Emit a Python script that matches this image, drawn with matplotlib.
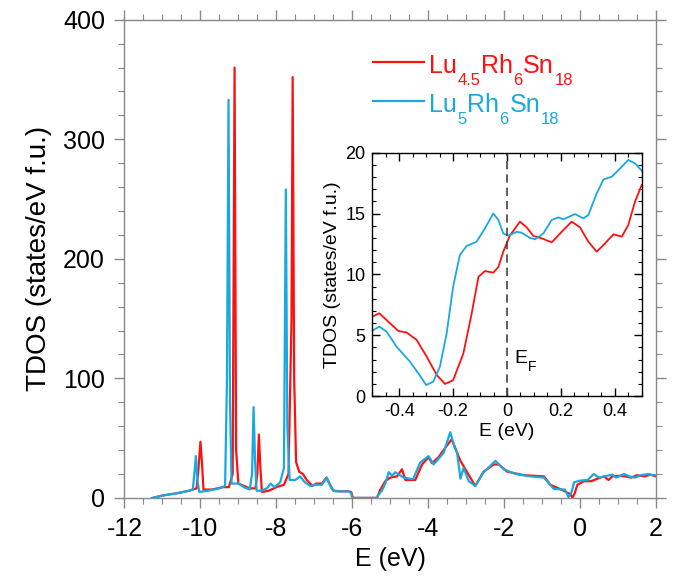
import matplotlib
matplotlib.use("Agg")
import matplotlib.pyplot as plt
from matplotlib.ticker import MultipleLocator, FuncFormatter
from matplotlib.transforms import IdentityTransform
from matplotlib.lines import Line2D

plt.rcParams['font.family'] = ['Liberation Sans', 'DejaVu Sans']
plt.rcParams['axes.unicode_minus'] = False

RED = '#FF1010'
BLUE = '#18A9E1'

# legend label pieces: (text, is_subscript)
label_a = [('Lu', False), ('4.5', True), ('Rh', False), ('6', True), ('Sn', False), ('18', True)]
label_b = [('Lu', False), ('5', True), ('Rh', False), ('6', True), ('Sn', False), ('18', True)]

# ---- main TDOS, Lu4.5Rh6Sn18 ----
e_a = [-11.25, -11.0, -10.6, -10.3, -10.1, -10.05, -10.0, -9.96, -9.92, -9.7, -9.4, -9.25,
       -9.15, -9.1, -9.06, -9.0, -8.85, -8.7, -8.55, -8.5, -8.46, -8.42, -8.38, -8.2, -8.0,
       -7.8, -7.68, -7.6, -7.57, -7.53, -7.48, -7.4, -7.3, -7.2, -7.05, -6.95, -6.8, -6.68,
       -6.6, -6.5, -6.3, -6.1, -6.03, -5.98, -5.35, -5.26, -5.13, -5.0, -4.82, -4.69, -4.6,
       -4.34, -4.16, -3.99, -3.9, -3.73, -3.55, -3.38, -3.15, -3.02, -2.76, -2.54, -2.27,
       -2.14, -1.92, -1.48, -0.95, -0.78, -0.43, -0.25, -0.2, -0.14, -0.07, 0.1, 0.3, 0.45,
       0.63, 0.75, 0.85, 0.98, 1.2, 1.35, 1.5, 1.7, 1.86, 2.0]
d_a = [0, 2, 4, 6, 8, 25, 47, 30, 7, 7, 9, 9,
       20, 360, 40, 12, 10, 8, 8, 20, 53, 25, 5, 6, 9,
       11, 20, 150, 352, 100, 30, 22, 20, 15, 10, 12, 12, 17,
       12, 6, 5.5, 5.5, 5, 0, 0, 7, 14, 17, 18, 24, 15,
       15, 28, 34, 29, 34, 42, 49, 31, 24, 10, 22, 28,
       28, 22, 19, 18, 11, 6, 3, 0, 4, 11, 14, 14, 16,
       18, 15, 18, 18.5, 18, 17, 19, 18, 19.5, 18]

# ---- main TDOS, Lu5Rh6Sn18 ----
e_b = [-11.27, -11.0, -10.6, -10.3, -10.2, -10.16, -10.12, -10.08, -10.03, -9.8, -9.5, -9.35,
       -9.3, -9.26, -9.22, -9.18, -9.0, -8.85, -8.7, -8.64, -8.6, -8.56, -8.52, -8.4, -8.25,
       -8.15, -8.05, -7.9, -7.8, -7.75, -7.71, -7.65, -7.5, -7.37, -7.25, -7.1, -6.95, -6.8,
       -6.67, -6.55, -6.45, -6.1, -6.03, -6.0, -5.37, -5.3, -5.22, -5.13, -5.04, -4.95, -4.87,
       -4.65, -4.4, -4.21, -3.99, -3.86, -3.73, -3.59, -3.42, -3.3, -3.24, -3.15, -3.07, -2.93,
       -2.76, -2.55, -2.23, -2.01, -1.7, -1.3, -0.95, -0.69, -0.4, -0.3, -0.22, -0.16, 0.0,
       0.2, 0.36, 0.5, 0.65, 0.85, 0.95, 1.16, 1.3, 1.45, 1.6, 1.8, 1.9, 2.0]
d_b = [0, 2, 4, 6, 7, 20, 35, 15, 5, 6, 8, 10,
       100, 333, 80, 12, 12, 9, 7, 20, 76, 30, 6, 6, 8,
       12, 9, 13, 25, 258, 60, 15, 15, 18, 13, 10, 11, 11,
       17, 8, 5.5, 5.5, 4, 0, 0, 3, 6, 12, 21.5, 18.6, 21.5,
       17, 15.6, 29.6, 35, 28, 32.6, 38, 55, 42, 38, 16, 25, 14,
       10, 21, 31, 24, 20, 18, 17, 7.5, 7, 0.6, 5, 13, 14.5,
       15, 20, 17, 18, 19.5, 17, 20, 18, 17, 19, 20, 19, 19]

# ---- inset, near E_F ----
ie_a = [-0.5, -0.474, -0.44, -0.403, -0.373, -0.335, -0.298, -0.261, -0.23, -0.2, -0.162,
        -0.131, -0.106, -0.082, -0.051, -0.032, -0.014, 0.011, 0.048, 0.073, 0.098, 0.129,
        0.166, 0.209, 0.24, 0.271, 0.302, 0.333, 0.364, 0.395, 0.426, 0.45, 0.475, 0.5]
id_a = [6.52, 6.8, 6.1, 5.34, 5.23, 4.6, 3.23, 1.73, 0.99, 1.3, 3.5,
        6.8, 9.8, 10.27, 10.14, 10.6, 11.86, 13.2, 14.33, 13.86, 13.15, 12.96,
        12.63, 13.64, 14.33, 13.86, 12.68, 11.86, 12.55, 13.29, 13.1, 14.05, 15.97, 17.34]

ie_b = [-0.5, -0.474, -0.447, -0.41, -0.36, -0.329, -0.3, -0.274, -0.249, -0.224, -0.2,
        -0.175, -0.15, -0.113, -0.082, -0.051, -0.032, -0.014, 0.005, 0.036, 0.054, 0.085,
        0.104, 0.135, 0.166, 0.191, 0.209, 0.252, 0.283, 0.302, 0.333, 0.358, 0.389, 0.42,
        0.45, 0.475, 0.5]
id_b = [5.37, 5.7, 5.29, 4.05, 2.82, 1.86, 0.9, 1.18, 2.41, 5.15, 8.99,
        11.59, 12.33, 12.68, 13.78, 15.0, 14.47, 13.37, 13.18, 13.5, 13.42, 13.0,
        12.88, 13.37, 14.47, 14.68, 14.52, 14.96, 14.6, 14.88, 16.66, 17.8, 18.03, 18.71,
        19.4, 19.12, 18.52]

fig = plt.figure(figsize=(6.84, 5.81), dpi=100)
H = 581
ax = fig.add_axes([0.182, 0.143, 0.777, 0.823])
ax.plot(e_a, d_a, color=RED, lw=1.6)
ax.plot(e_b, d_b, color=BLUE, lw=1.6)
ax.set_xlim(-12, 2)
ax.set_ylim(0, 400)
ax.xaxis.set_major_locator(MultipleLocator(2))
ax.xaxis.set_minor_locator(MultipleLocator(0.5))
ax.yaxis.set_major_locator(MultipleLocator(100))
ax.yaxis.set_minor_locator(MultipleLocator(20))
for s in ax.spines.values():
    s.set_color('#888888')
    s.set_linewidth(1.0)
ax.tick_params(which='both', direction='out', colors='#888888', labelcolor='black',
               top=True, right=True, labelsize=18)
ax.tick_params(which='major', length=7, width=1.0, pad=7)
ax.tick_params(which='minor', length=4, width=0.8)
ax.set_xlabel('E (eV)', fontsize=18, labelpad=4)
ax.set_ylabel('TDOS (states/eV f.u.)', fontsize=20, labelpad=8)

# manual legend with lowered subscripts (pixel positions)
renderer = fig.canvas.get_renderer()


def draw_label(x0, y_base, pieces, color, big=18, small=12, drop=12):
    x = x0
    for txt, sub in pieces:
        t = fig.text(x, y_base - (drop if sub else 0), txt, transform=IdentityTransform(),
                     fontsize=small if sub else big, color=color, ha='left', va='baseline')
        bb = t.get_window_extent(renderer=renderer)
        x = bb.x1 + 0.5


for pieces, color, y_line, y_base in [(label_a, RED, H - 62, H - 73),
                                      (label_b, BLUE, H - 101, H - 112)]:
    fig.add_artist(Line2D([373, 424], [y_line, y_line], color=color, lw=1.6,
                          transform=IdentityTransform()))
    draw_label(429, y_base, pieces, color)

# inset
ins = fig.add_axes([0.5443, 0.3184, 0.3939, 0.4188])
ins.plot(ie_a, id_a, color=RED, lw=1.3)
ins.plot(ie_b, id_b, color=BLUE, lw=1.3)
ins.axvline(0, color='#444444', lw=1.2, ls=(0, (5, 3)))
ins.set_xlim(-0.5, 0.5)
ins.set_ylim(0, 20)
ins.xaxis.set_major_locator(MultipleLocator(0.2))
ins.xaxis.set_minor_locator(MultipleLocator(0.05))
ins.yaxis.set_major_locator(MultipleLocator(5))
ins.yaxis.set_minor_locator(MultipleLocator(1))
ins.xaxis.set_major_formatter(FuncFormatter(lambda v, p: ('%g' % round(v, 2))))
for s in ins.spines.values():
    s.set_color('black')
    s.set_linewidth(1.0)
ins.tick_params(which='both', direction='in', top=True, right=True, labelsize=13)
ins.tick_params(which='major', length=6, width=1.0, pad=5)
ins.tick_params(which='minor', length=3, width=0.8)
ins.set_xlabel('E (eV)', fontsize=14, labelpad=2)
ins.set_ylabel('TDOS (states/eV f.u.)', fontsize=14, labelpad=3)
te = ins.text(0.027, 2.74, 'E', fontsize=14, ha='left', va='baseline')
bbe = te.get_window_extent(renderer=renderer)
fig.text(bbe.x1 + 0.5, bbe.y0 - 4, 'F', transform=IdentityTransform(), fontsize=10,
         ha='left', va='baseline')

fig.savefig('out.png', dpi=100)
